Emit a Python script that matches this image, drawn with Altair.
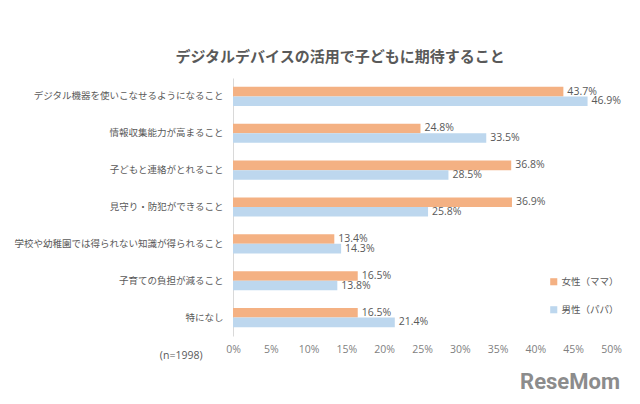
import altair as alt
import pandas as pd

categories = [
    "デジタル機器を使いこなせるようになること",
    "情報収集能力が高まること",
    "子どもと連絡がとれること",
    "見守り・防犯ができること",
    "学校や幼稚園では得られない知識が得られること",
    "子育ての負担が減ること",
    "特になし",
]
series = ["女性（ママ）", "男性（パパ）"]
female = [43.7, 24.8, 36.8, 36.9, 13.4, 16.5, 16.5]
male = [46.9, 33.5, 28.5, 25.8, 14.3, 13.8, 21.4]
x_ticks = [0, 5, 10, 15, 20, 25, 30, 35, 40, 45, 50]
colors = ["#F4B183", "#BDD7EE"]

rows = []
for c, f, m in zip(categories, female, male):
    rows.append({"category": c, "series": series[0], "value": f})
    rows.append({"category": c, "series": series[1], "value": m})
df = pd.DataFrame(rows)

FONT = "Noto Sans CJK JP"

y_enc = alt.Y(
    "category:N",
    sort=categories,
    scale=alt.Scale(paddingInner=0.48, paddingOuter=0.24),
    axis=alt.Axis(
        title=None, ticks=False, labelFontSize=9.5, labelColor="#595959",
        labelPadding=10, domainColor="#d9d9d9", labelFont=FONT, labelLimit=300,
    ),
)
yoff = alt.YOffset("series:N", sort=series)
x_enc = alt.X(
    "value:Q",
    scale=alt.Scale(domain=[0, 50], nice=False),
    axis=alt.Axis(
        values=x_ticks, labelExpr="datum.value + '%'", grid=False, ticks=False,
        domain=False, labelFontSize=10.5, labelColor="#7f7f7f", labelPadding=8,
        labelOverlap=False, labelFont="Open Sans", labelBound=False,
        labelFlush=False,
        title="(n=1998)", titleFontSize=10.5, titleFontWeight="normal",
        titleColor="#595959", titleX=-31, titleY=19, titleAlign="right",
        titleBaseline="middle", titleFont="Open Sans",
    ),
)

bars = alt.Chart(df).mark_bar().encode(
    y=y_enc,
    yOffset=yoff,
    x=x_enc,
    color=alt.Color(
        "series:N", sort=series,
        scale=alt.Scale(domain=series, range=colors),
        legend=alt.Legend(
            title=None, orient="none", legendX=316, legendY=199,
            symbolType="square", symbolSize=50, labelFontSize=9.5,
            labelColor="#595959", rowPadding=17, labelFont=FONT,
            labelOffset=3,
        ),
    ),
)

labels = alt.Chart(df).transform_calculate(
    label="format(datum.value, '.1f') + '%'"
).mark_text(
    align="left", baseline="middle", dx=4, fontSize=10.5, color="#595959",
    font="Open Sans",
).encode(
    y=y_enc,
    yOffset=yoff,
    x=x_enc,
    text="label:N",
)

logo = alt.Chart(pd.DataFrame({"t": ["ReseMom"]})).mark_text(
    align="right", baseline="middle", fontSize=22, fontWeight="bold",
    color="#8c8c8c", font="Roboto",
).encode(x=alt.value(387), y=alt.value(304), text="t:N")

chart = (
    alt.layer(bars, labels, logo)
    .properties(
        width=378,
        height=258,
        padding={"left": 225, "top": 70, "right": 21, "bottom": 60},
        autosize=alt.AutoSizeParams(type="none"),
        title=alt.Title(
            "デジタルデバイスの活用で子どもに期待すること",
            fontSize=15, fontWeight="bold", color="#595959", font=FONT,
            anchor="middle", dx=-82, offset=13,
        ),
    )
    .configure_axisX(labelOverlap=False, labelFlush=False)
    .configure_view(stroke=None)
)

chart.save("out.html", embed_options={"renderer": "svg", "actions": False})
